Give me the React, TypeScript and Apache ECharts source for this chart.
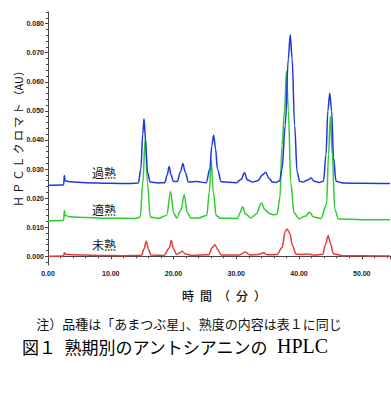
import React, { useEffect, useRef } from "react";
import * as echarts from "echarts";

// retention time (min), absorbance (AU)
const KAJUKU: [number, number][] = [
  [0, 0.0244], [2.3, 0.0245], [2.5, 0.0246], [2.6, 0.0278], [2.75, 0.026], [3.5, 0.0256], [6, 0.0253], [10, 0.0251], [13, 0.025],
  [14.4, 0.0252], [14.8, 0.03], [15.1, 0.042], [15.3, 0.0473], [15.55, 0.04], [15.85, 0.029], [16.3, 0.0255], [17.5, 0.0252],
  [18.6, 0.0253], [19.0, 0.028], [19.3, 0.0309], [19.6, 0.028], [20.0, 0.0257], [20.6, 0.0257], [21.1, 0.029], [21.5, 0.0319],
  [21.85, 0.029], [22.4, 0.0255], [23.7, 0.0257], [25.2, 0.0253], [25.8, 0.03], [26.1, 0.038], [26.4, 0.0416], [26.7, 0.037],
  [27.0, 0.03], [27.6, 0.0256], [30.0, 0.0253], [30.8, 0.0265], [31.3, 0.0287], [31.8, 0.0262], [32.6, 0.0255], [33.4, 0.026],
  [34.2, 0.028], [34.7, 0.0289], [35.2, 0.0268], [35.8, 0.0255], [36.4, 0.0254], [36.9, 0.026], [37.3, 0.03], [37.8, 0.045],
  [38.3, 0.068], [38.6, 0.0762], [38.9, 0.068], [39.3, 0.045], [39.7, 0.029], [40.1, 0.0258], [40.6, 0.0255], [41.4, 0.0262],
  [41.9, 0.0269], [42.4, 0.0258], [43.2, 0.0254], [43.9, 0.0258], [44.3, 0.035], [44.6, 0.05], [44.9, 0.0561], [45.2, 0.05],
  [45.5, 0.034], [45.9, 0.0258], [47, 0.0252], [50, 0.0251], [54.5, 0.025],
];

const TEKIJUKU: [number, number][] = [
  [0, 0.0122], [2.3, 0.0123], [2.5, 0.0125], [2.6, 0.0157], [2.75, 0.014], [3.5, 0.0136], [6, 0.0133], [10, 0.0131], [14, 0.013],
  [14.7, 0.0135], [15.1, 0.025], [15.5, 0.0408], [15.85, 0.025], [16.3, 0.0135], [17.5, 0.013], [18.9, 0.014], [19.55, 0.0223],
  [20.0, 0.015], [20.5, 0.0132], [21.2, 0.016], [21.7, 0.0212], [22.2, 0.015], [22.8, 0.0131], [24, 0.0132], [25.3, 0.014],
  [25.7, 0.022], [26.0, 0.0332], [26.35, 0.022], [26.8, 0.014], [27.5, 0.0131], [30.2, 0.013], [30.6, 0.015], [31.0, 0.017],
  [31.5, 0.0145], [32.3, 0.0132], [33.2, 0.0145], [34.0, 0.0183], [34.6, 0.016], [35.2, 0.0148], [35.9, 0.0143], [36.5, 0.0145],
  [36.95, 0.02], [37.3, 0.0384], [37.7, 0.05], [38.0, 0.0636], [38.3, 0.05], [38.7, 0.025], [39.2, 0.015], [40.0, 0.0129],
  [41.0, 0.0138], [41.7, 0.0151], [42.3, 0.0135], [43.5, 0.013], [44.4, 0.018], [44.7, 0.035], [45.0, 0.0481], [45.3, 0.035],
  [45.7, 0.016], [46.3, 0.0128], [50, 0.0126], [54.5, 0.0126],
];

const MIJUKU: [number, number][] = [
  [0, 0.0], [2.3, 0.0001], [2.5, 0.0002], [2.6, 0.0012], [2.8, 0.0007], [4, 0.0005], [8, 0.0003], [12, 0.0002], [14.9, 0.0003],
  [15.3, 0.0025], [15.65, 0.0052], [16.0, 0.0025], [16.4, 0.0004], [18.5, 0.0003], [19.3, 0.0028], [19.65, 0.0054], [20.0, 0.0025],
  [20.5, 0.0006], [21.0, 0.0012], [21.4, 0.0017], [21.9, 0.0008], [23, 0.0003], [25.6, 0.0005], [26.2, 0.003], [26.6, 0.004],
  [27.0, 0.0025], [27.6, 0.0004], [30.5, 0.0004], [31.4, 0.0015], [32.2, 0.0004], [33.5, 0.0006], [34.3, 0.0012], [35.0, 0.0005],
  [36.5, 0.0006], [37.3, 0.003], [37.8, 0.0085], [38.1, 0.0094], [38.5, 0.008], [39.0, 0.0035], [39.5, 0.0008], [40.3, 0.0006],
  [41.3, 0.0008], [42.5, 0.0004], [43.8, 0.0007], [44.2, 0.004], [44.65, 0.0071], [45.0, 0.0045], [45.5, 0.0008], [47, 0.0002],
  [54.5, 0.0001],
];

const SERIES_NAMES = ["未熟", "適熟", "過熟"];
const Y_TICKS = [0, 0.01, 0.02, 0.03, 0.04, 0.05, 0.06, 0.07, 0.08];
const Y_MINOR_TICKS = [-0.002, 0.002, 0.004, 0.006, 0.008, 0.012, 0.014, 0.016, 0.018, 0.022, 0.024, 0.026, 0.028, 0.032, 0.034,
  0.036, 0.038, 0.042, 0.044, 0.046, 0.048, 0.052, 0.054, 0.056, 0.058, 0.062, 0.064, 0.066, 0.068, 0.072, 0.074, 0.076, 0.078, 0.082, 0.084];

const Y_MIN = -0.003;
const Y_MAX = 0.084;
const X_MAX = 54.5;

const CJK = "'Noto Sans CJK JP', sans-serif";

export default function App() {
  const ref = useRef<HTMLDivElement>(null);
  useEffect(() => {
    if (!ref.current) return;
    const chart = echarts.init(ref.current, undefined, { renderer: "svg" });
    const axisColor = "#444";
    const labelStyle = { fontSize: 7, fontWeight: "bold" as const, color: "#222", fontFamily: "Arial, 'Liberation Sans', sans-serif" };
    chart.setOption({
      animation: false,
      backgroundColor: "#fff",
      grid: { left: 48, right: 1, top: 12, bottom: 134, containLabel: false },
      xAxis: {
        type: "value",
        min: 0,
        max: X_MAX,
        interval: 10,
        axisLine: { show: true, lineStyle: { color: axisColor, width: 1 } },
        axisTick: { show: true, length: 3, lineStyle: { color: axisColor } },
        minorTick: { show: true, splitNumber: 5, length: 2, lineStyle: { color: axisColor } },
        splitLine: { show: false },
        axisLabel: { ...labelStyle, margin: 5, formatter: (v: number) => v.toFixed(2), showMaxLabel: false },
      },
      yAxis: [
        {
          type: "value",
          min: Y_MIN,
          max: Y_MAX,
          axisLine: { show: true, lineStyle: { color: axisColor, width: 1 } },
          axisTick: { show: true, length: 3, customValues: Y_TICKS, lineStyle: { color: axisColor } },
          splitLine: { show: false },
          axisLabel: { ...labelStyle, margin: 4, customValues: Y_TICKS, formatter: (v: number) => v.toFixed(3) },
        },
        {
          type: "value",
          min: Y_MIN,
          max: Y_MAX,
          position: "left",
          axisLine: { show: false },
          axisTick: { show: true, length: 2, customValues: Y_MINOR_TICKS, lineStyle: { color: axisColor } },
          splitLine: { show: false },
          axisLabel: { show: false },
        },
      ],
      series: [
        { name: SERIES_NAMES[0], type: "line", data: MIJUKU, color: "#e23b3b" },
        { name: SERIES_NAMES[1], type: "line", data: TEKIJUKU, color: "#2ecc2e" },
        { name: SERIES_NAMES[2], type: "line", data: KAJUKU, color: "#2039de" },
      ].map((s) => ({
        ...s,
        showSymbol: false,
        symbol: "none",
        smooth: 0.35,
        smoothMonotone: "x",
        lineStyle: { width: 1.5 },
        yAxisIndex: 0,
      })),
      graphic: [
        { type: "text", x: 104, y: 172, style: { text: "過熟", font: `12px ${CJK}`, fill: "#111", align: "center", verticalAlign: "middle" } },
        { type: "text", x: 104, y: 209, style: { text: "適熟", font: `12px ${CJK}`, fill: "#111", align: "center", verticalAlign: "middle" } },
        { type: "text", x: 104, y: 244, style: { text: "未熟", font: `12px ${CJK}`, fill: "#111", align: "center", verticalAlign: "middle" } },
        {
          type: "text",
          x: 18,
          y: 136,
          rotation: Math.PI / 2,
          style: { text: "Ｈ\u2009Ｐ\u2009Ｃ\u2009Ｌ\u2009ク\u2009ロ\u2009マ\u2009ト\u2009（AU）", font: `11px ${CJK}`, fill: "#111", align: "center", verticalAlign: "middle" },
        },
        { type: "text", x: 224, y: 295, style: { text: "時\u2002間\u2002（\u2002分\u2002）", font: `500 12px ${CJK}`, fill: "#111", align: "center", verticalAlign: "middle" } },
        {
          type: "text",
          x: 189,
          y: 323,
          style: { text: "注）品種は「あまつぶ星」、熟度の内容は表１に同じ", font: `13px ${CJK}`, fill: "#111", align: "center", verticalAlign: "middle" },
        },
        {
          type: "text",
          x: 22,
          y: 346,
          style: {
            text: "{a|図１\u2002熟期別のアントシアニンの\u2002}{b|HPLC}",
            align: "left",
            verticalAlign: "middle",
            rich: {
              a: { fontSize: 17, fontFamily: CJK, color: "#111" },
              b: { fontSize: 20, fontFamily: "'Liberation Serif', serif", color: "#111" },
            },
          },
        },
      ],
    });
    return () => chart.dispose();
  }, []);
  return <div ref={ref} style={{ position: "absolute", left: 0, top: 0, width: 391, height: 399 }} />;
}
